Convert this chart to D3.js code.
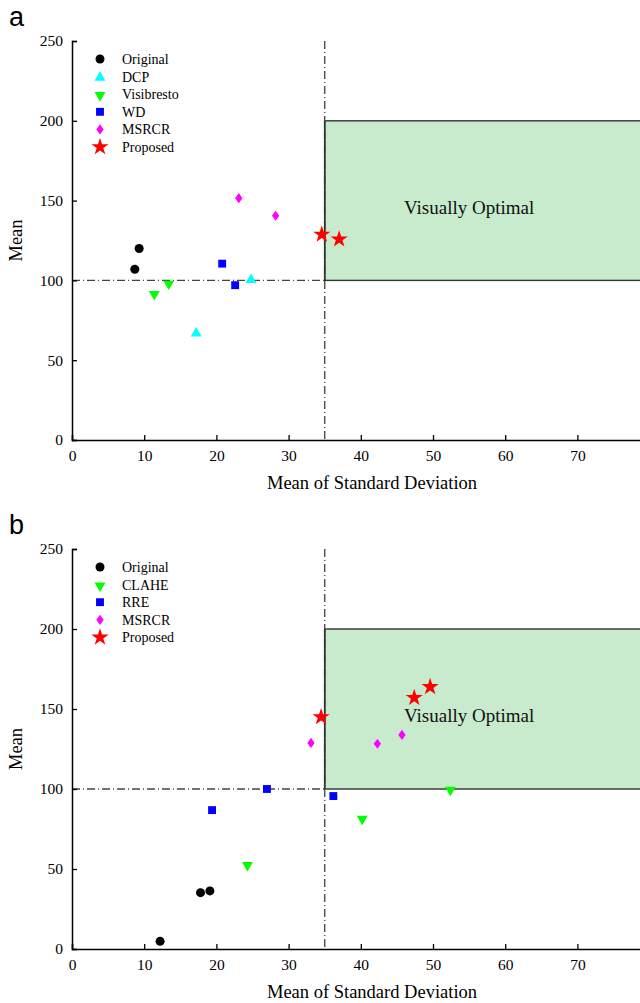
<!DOCTYPE html>
<html>
<head>
<meta charset="utf-8">
<script src="https://cdn.jsdelivr.net/npm/d3@7"></script>
<style>
  body { margin: 0; background: #fff; }
  svg text { font-family: "Liberation Serif", "Times New Roman", serif; fill: #000; }
</style>
</head>
<body>
<svg id="chart" width="640" height="1003"></svg>
<script>
// ---- data, panel a ----
const originalA   = [[8.7, 107], [9.3, 120]];
const dcpA        = [[17.2, 67.5], [24.8, 101]];
const visibrestoA = [[11.4, 92], [13.4, 98.5]];
const wdA         = [[20.8, 110.5], [22.6, 97]];
const msrcrA      = [[23.1, 151.5], [28.2, 140.5]];
const proposedA   = [[34.6, 128.8], [37.0, 125.8]];

// ---- data, panel b ----
const originalB = [[12.2, 4.8], [17.8, 35.2], [19.1, 36.3]];
const claheB    = [[24.3, 53], [40.2, 82], [52.4, 100]];
const rreB      = [[19.4, 86.8], [27.0, 100], [36.2, 95.6]];
const msrcrB    = [[33.1, 128.8], [42.3, 128.3], [45.7, 133.8]];
const proposedB = [[34.5, 145], [47.4, 157], [49.6, 163.8]];

const xTicks = [0, 10, 20, 30, 40, 50, 60, 70];
const yTicks = [0, 50, 100, 150, 200, 250];
const optimal = { x0: 35, y0: 100, y1: 200, label: 'Visually Optimal', lx: 55, ly: 146 };

const styles = {
  Original:   { shape: 'circle',   color: '#000000' },
  DCP:        { shape: 'up',       color: '#00ffff' },
  Visibresto: { shape: 'down',     color: '#00ff00' },
  CLAHE:      { shape: 'down',     color: '#00ff00' },
  WD:         { shape: 'square',   color: '#0000ff' },
  RRE:        { shape: 'square',   color: '#0000ff' },
  MSRCR:      { shape: 'diamond',  color: '#ff00ff' },
  Proposed:   { shape: 'star',     color: '#ff0000' }
};

const panels = [
  { tag: 'a', top: 41, bottom: 440, series: [
    ['Original', originalA], ['DCP', dcpA], ['Visibresto', visibrestoA],
    ['WD', wdA], ['MSRCR', msrcrA], ['Proposed', proposedA]] },
  { tag: 'b', top: 549, bottom: 949, series: [
    ['Original', originalB], ['CLAHE', claheB], ['RRE', rreB],
    ['MSRCR', msrcrB], ['Proposed', proposedB]] }
];

const svg = d3.select('#chart');
const left = 72;

// narrow diamond like the original plot's marker
const narrowDiamond = {
  draw(ctx, size) {
    const h = Math.sqrt(size) * 0.72, w = h * 0.72;
    ctx.moveTo(0, -h); ctx.lineTo(w, 0); ctx.lineTo(0, h); ctx.lineTo(-w, 0); ctx.closePath();
  }
};

function symbolPath(shape) {
  switch (shape) {
    case 'circle':  return d3.symbol(d3.symbolCircle, 64)();
    case 'up':      return d3.symbol(d3.symbolTriangle, 52)();
    case 'down':    return d3.symbol(d3.symbolTriangle, 52)();
    case 'square':  return d3.symbol(d3.symbolSquare, 62)();
    case 'diamond': return d3.symbol(narrowDiamond, 50)();
    case 'star':    return d3.symbol(d3.symbolStar, 92)();
  }
}
function symbolTransform(shape, x, y) {
  if (shape === 'down') return `translate(${x},${y + 1}) rotate(180)`;
  if (shape === 'up') return `translate(${x},${y + 1})`;
  return `translate(${x},${y})`;
}

panels.forEach(p => {
  const x = d3.scaleLinear().domain([0, 80]).range([left, left + 577.6]);
  const y = d3.scaleLinear().domain([0, 250]).range([p.bottom, p.top]);
  const g = svg.append('g');

  // optimal region
  g.append('rect')
    .attr('x', x(optimal.x0)).attr('y', y(optimal.y1))
    .attr('width', x(80) - x(optimal.x0)).attr('height', y(optimal.y0) - y(optimal.y1))
    .attr('fill', '#c8ebce').attr('stroke', '#333').attr('stroke-width', 1.4);

  // dash-dot guides
  g.append('line')
    .attr('x1', x(optimal.x0)).attr('x2', x(optimal.x0))
    .attr('y1', y(250)).attr('y2', y(0))
    .attr('stroke', '#555').attr('stroke-width', 1.5).attr('stroke-dasharray', '8,3,1,3');
  g.append('line')
    .attr('x1', x(0)).attr('x2', x(optimal.x0))
    .attr('y1', y(optimal.y0)).attr('y2', y(optimal.y0))
    .attr('stroke', '#444').attr('stroke-width', 1.3).attr('stroke-dasharray', '8,3,1,3');
  g.append('line')
    .attr('x1', x(optimal.x0)).attr('x2', x(optimal.x0))
    .attr('y1', y(optimal.y1)).attr('y2', y(optimal.y0))
    .attr('stroke', '#333').attr('stroke-width', 1.6);

  g.append('text')
    .attr('x', x(optimal.lx)).attr('y', y(optimal.ly)).attr('dy', '0.35em')
    .attr('text-anchor', 'middle').style('font-size', '19px').style('fill', '#111')
    .text(optimal.label);

  // axes
  const xAxis = d3.axisBottom(x).tickValues(xTicks).tickSize(-5).tickPadding(10);
  const yAxis = d3.axisLeft(y).tickValues(yTicks).tickSize(-5).tickPadding(9);
  const gx = g.append('g').attr('transform', `translate(0,${p.bottom})`).call(xAxis);
  const gy = g.append('g').attr('transform', `translate(${left},0)`).call(yAxis);
  [gx, gy].forEach(a => {
    a.select('.domain').attr('stroke-width', 1.5);
    a.selectAll('.tick line').attr('stroke-width', 1.3);
    a.selectAll('text').style('font-size', '15.5px').style('font-family', '"Liberation Serif", serif');
  });

  g.append('text')
    .attr('x', 372).attr('y', p.bottom + 49)
    .attr('text-anchor', 'middle').style('font-size', '18.5px')
    .text('Mean of Standard Deviation');
  g.append('text')
    .attr('transform', `translate(22,${(p.top + p.bottom) / 2}) rotate(-90)`)
    .attr('text-anchor', 'middle').style('font-size', '18.5px')
    .text('Mean');
  g.append('text')
    .attr('x', 9).attr('y', p.top - 15)
    .style('font-family', '"Liberation Sans", Arial, sans-serif').style('font-size', '27px')
    .text(p.tag);

  // markers
  p.series.forEach(([name, pts]) => {
    const s = styles[name];
    g.selectAll(null).data(pts).enter().append('path')
      .attr('d', symbolPath(s.shape))
      .attr('transform', d => symbolTransform(s.shape, x(d[0]), y(d[1])))
      .attr('fill', s.color);
  });

  // legend
  const leg = g.append('g').attr('transform', `translate(100,${p.top + 18})`);
  p.series.forEach(([name], i) => {
    const s = styles[name];
    const row = leg.append('g').attr('transform', `translate(0,${i * 17.6})`);
    row.append('path').attr('d', symbolPath(s.shape))
      .attr('transform', symbolTransform(s.shape, 0, 0)).attr('fill', s.color);
    row.append('text').attr('x', 22).attr('dy', '0.35em')
      .style('font-size', '14px').text(name);
  });
});
</script>
</body>
</html>
